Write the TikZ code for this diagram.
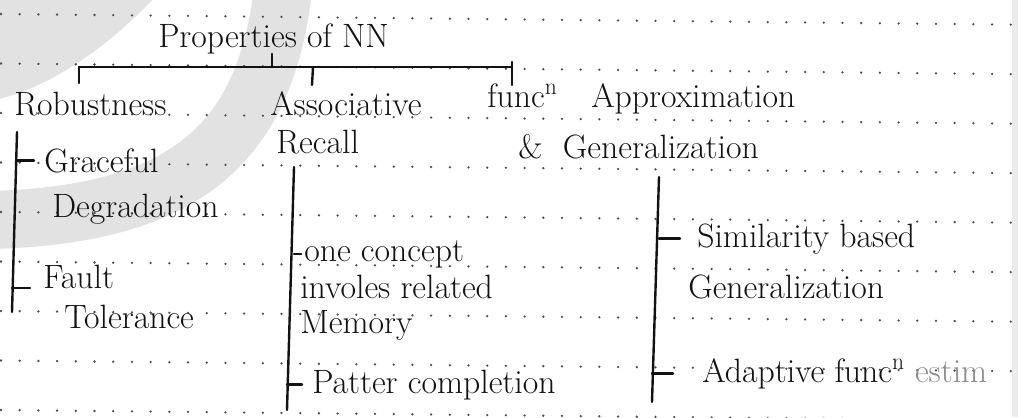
\documentclass[tikz,border=0pt]{standalone}
\usepackage{tikz}
\usetikzlibrary{positioning,calc}
\definecolor{wmark}{RGB}{226,226,226}
\definecolor{ink}{RGB}{18,18,18}

\begin{document}
\begin{tikzpicture}[x=0.025cm,y=-0.025cm,
        txt/.style={anchor=base west,inner sep=0pt,text=ink,font=\fontsize{24}{28}\selectfont},
        branch/.style={draw=ink,line width=1.7pt,line cap=round},
        twig/.style={branch,shorten >=#1},
        twig/.default=0.25cm,
        pdot/.style={fill=black!70,draw=none}]
        \useasboundingbox (0,0) rectangle (1018,417);
        \clip (0,0) rectangle (1018,417);
        \fill[white] (0,0) rectangle (1018,417);
        \fill[wmark] (-5,-5) -- (157,-5) .. controls (120,35) and (60,85) .. (-5,100) -- cycle;
        \draw[wmark,line width=1.45cm] (283,-10) .. controls (265,140) and (190,215) .. (-10,220);
        \fill[black!8] (1012,0) rectangle (1018,417);
        \foreach \r in {0,...,8}
            \foreach \c in {0,...,54}
                \fill[pdot] ({1+18.7*\c},{14+49.5*\r+0.0105*18.7*\c}) circle (0.9pt);

        \node[txt] (props) at (158,47) {Properties of NN};
        \node[txt] (rob) at (14,115) {Robustness};
        \node[txt] (assoc) at (270,115) {Associative};
        \node[txt] (recall) at (276,153) {Recall};
        \node[txt] (func) at (487,107) {func\textsuperscript{n}\quad Approximation};
        \node[txt] (gen) at (518,158) {\&~~Generalization};

        \node[txt] (grace) at (44,172) {Graceful};
        \node[txt] (degr) at (52,217) {Degradation};
        \node[txt] (fault) at (43,288) {Fault};
        \node[txt] (toler) at (64,328) {Tolerance};

        \node[txt] (concept) at (304,261) {one concept};
        \node[txt] (involves) at (300,298) {involes related};
        \node[txt] (memory) at (300,333) {Memory};
        \node[txt] (pattern) at (312,393) {Patter completion};

        \node[txt] (simil) at (697,247) {Similarity based};
        \node[txt] (simgen) at (688,298) {Generalization};
        \node[txt] (adapt) at (702,382) {Adaptive func\textsuperscript{n} \textcolor{black!45}{estim}};

        \coordinate (barS) at (272,67);
        \coordinate (barL) at (79,67);
        \coordinate (barM) at (313,67);
        \coordinate (barR) at (512,67);
        \draw[branch] (barS |- props.south) -- (barS);
        \draw[branch] (barL) -- (barR);
        \draw[branch] (barL) -- ++(0,16);
        \draw[branch] (barM) -- ++(-1,18);
        \draw[branch] (barR) ++(0,-5) -- ++(0,23);

        \coordinate (robT) at (17,132);
        \coordinate (robB) at (12,312);
        \draw[branch] (robT) -- (robB);
        \draw[twig] (robT |- grace.west) -- (grace.west);
        \draw[twig=0.325cm] (robB |- fault.base west) -- (fault.base west);

        \coordinate (assT) at (294,167);
        \coordinate (assB) at (287,410);
        \draw[branch] (assT) -- (assB);
        \draw[twig=2pt] (assT |- concept.west) -- (concept.west);
        \draw[twig] (assB |- pattern.west) -- (pattern.west);

        \coordinate (funT) at (659,177);
        \coordinate (funB) at (652,402);
        \draw[branch] (funT) -- (funB);
        \draw[twig=0.425cm] (funT |- simil.west) -- (simil.west);
        \draw[twig=0.725cm] (funB |- adapt.west) -- (adapt.west);
    \end{tikzpicture}
\end{document}
